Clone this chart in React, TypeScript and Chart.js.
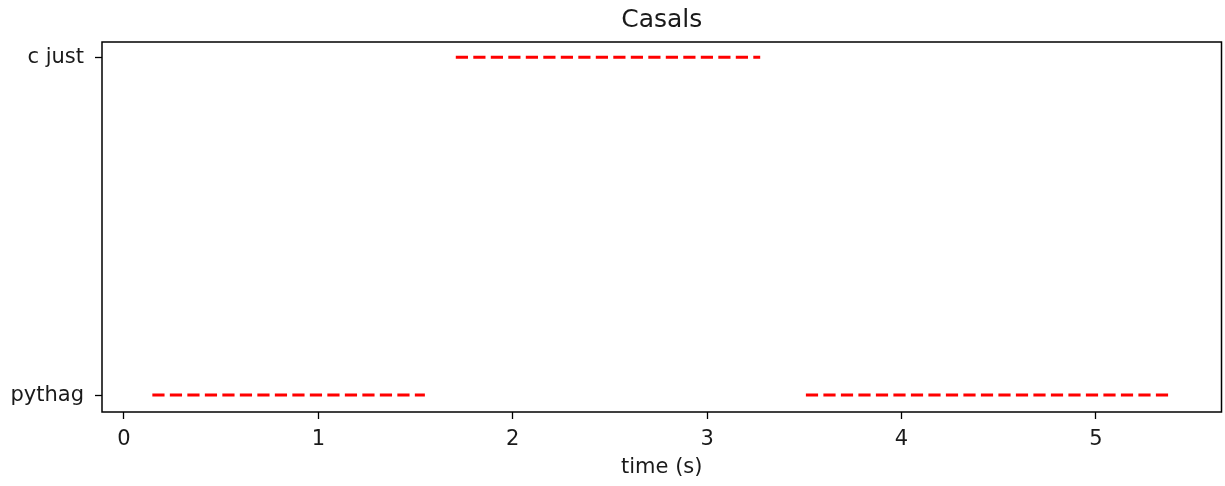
import React, { useEffect, useRef } from "react";
import { Chart, registerables } from "chart.js";

Chart.register(...registerables);

// ---- data ----
const TITLE = "Casals";
const X_LABEL = "time (s)";
const TUNINGS = ["pythag", "c just"];
const SEGMENT_TUNING = ["pythag", "c just", "pythag"];
const SEGMENT_STARTS = [0.146, 1.707, 3.508];
const SEGMENT_ENDS = [1.548, 3.273, 5.383];
const X_TICKS = [0, 1, 2, 3, 4, 5];
const X_MIN = -0.113;
const X_MAX = 5.646;
const Y_MIN = -0.05;
const Y_MAX = 1.045;

const FONT = "'DejaVu Sans', 'Liberation Sans', sans-serif";
const TEXT_COLOR = "#1a1a1a";

const framePlugin = {
  id: "framePlugin",
  afterDraw(chart: any) {
    const { ctx, chartArea } = chart;
    ctx.save();
    ctx.strokeStyle = "#000";
    ctx.lineWidth = 1.5;
    ctx.strokeRect(chartArea.left, chartArea.top, chartArea.right - chartArea.left, chartArea.bottom - chartArea.top);
    ctx.fillStyle = TEXT_COLOR;
    ctx.font = `25px ${FONT}`;
    ctx.textAlign = "center";
    ctx.textBaseline = "alphabetic";
    ctx.fillText(TITLE, (chartArea.left + chartArea.right) / 2, 27);
    ctx.restore();
  },
};

export default function App() {
  const ref = useRef<HTMLCanvasElement | null>(null);

  useEffect(() => {
    if (!ref.current) return;
    const datasets = SEGMENT_STARTS.map((s, i) => {
      const yv = TUNINGS.indexOf(SEGMENT_TUNING[i]);
      return {
        label: SEGMENT_TUNING[i],
        data: [
          { x: s, y: yv },
          { x: SEGMENT_ENDS[i], y: yv },
        ],
        showLine: true,
        borderColor: "#ff0000",
        backgroundColor: "#ff0000",
        borderWidth: 3,
        borderDash: [12.2, 5.3],
        borderCapStyle: "butt" as const,
        pointRadius: 0,
        pointHoverRadius: 0,
        fill: false,
      };
    });

    const chart = new Chart(ref.current, {
      type: "scatter",
      data: { datasets },
      plugins: [framePlugin],
      options: {
        animation: false,
        responsive: false,
        maintainAspectRatio: false,
        devicePixelRatio: 1,
        layout: { padding: { top: 42, right: 3.5, left: 0, bottom: 0 } },
        plugins: {
          legend: { display: false },
          tooltip: { enabled: false },
          title: { display: false },
        },
        scales: {
          x: {
            type: "linear",
            min: X_MIN,
            max: X_MAX,
            afterBuildTicks: (scale: any) => {
              scale.ticks = X_TICKS.map((v) => ({ value: v }));
            },
            afterFit: (scale: any) => {
              scale.height = 74;
            },
            grid: {
              drawOnChartArea: false,
              drawTicks: true,
              tickLength: 7,
              tickColor: "#000",
              tickWidth: 1.3,
            },
            border: { display: false },
            ticks: {
              color: TEXT_COLOR,
              font: { family: FONT, size: 21 },
              padding: 8,
              maxRotation: 0,
              autoSkip: false,
              callback: (v: any) => String(v),
            },
            title: {
              display: true,
              text: X_LABEL,
              color: TEXT_COLOR,
              font: { family: FONT, size: 21 },
              padding: { top: 0, bottom: 6 },
            },
          },
          y: {
            type: "linear",
            min: Y_MIN,
            max: Y_MAX,
            afterBuildTicks: (scale: any) => {
              scale.ticks = TUNINGS.map((_, i) => ({ value: i }));
            },
            afterFit: (scale: any) => {
              scale.width = 102;
            },
            grid: {
              drawOnChartArea: false,
              drawTicks: true,
              tickLength: 7,
              tickColor: "#000",
              tickWidth: 1.3,
            },
            border: { display: false },
            ticks: {
              color: TEXT_COLOR,
              font: { family: FONT, size: 21 },
              padding: 11,
              autoSkip: false,
              callback: (v: any) => TUNINGS[Math.round(v)] ?? "",
            },
          },
        },
      },
    });
    return () => chart.destroy();
  }, []);

  return (
    <div style={{ position: "absolute", left: 0, top: 0, width: 1225, height: 486, background: "#fff" }}>
      <canvas ref={ref} width={1225} height={486} style={{ display: "block", width: 1225, height: 486 }} />
    </div>
  );
}
